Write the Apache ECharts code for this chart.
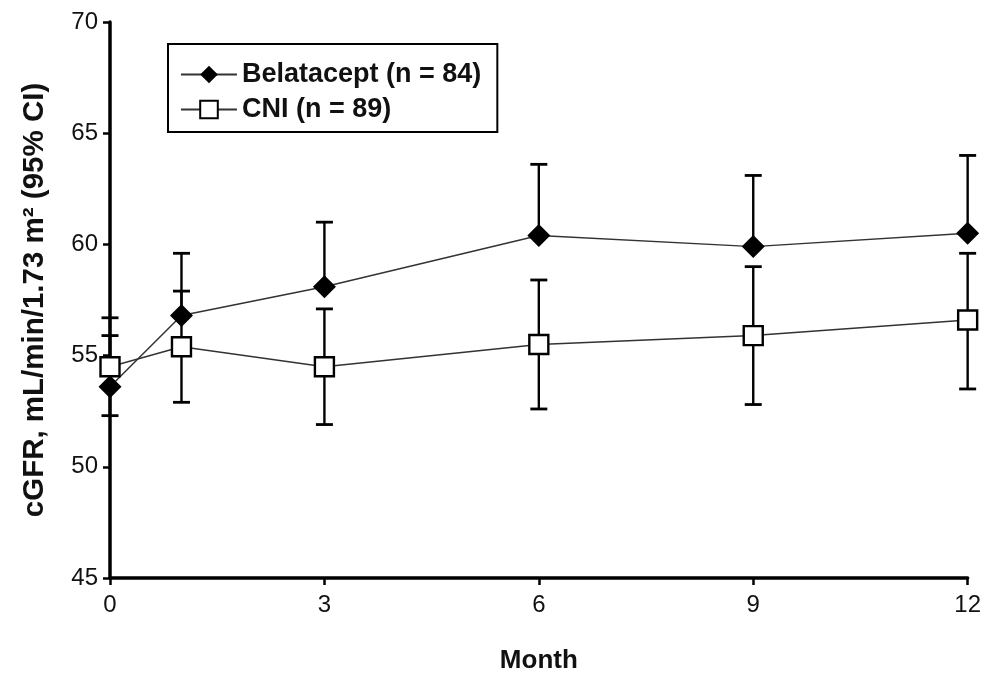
<!DOCTYPE html>
<html>
<head>
<meta charset="utf-8">
<script src="https://cdn.jsdelivr.net/npm/echarts@6/dist/echarts.min.js"></script>
<style>
html,body{margin:0;padding:0;background:#fff;}
#chart{width:984px;height:679px;}
</style>
</head>
<body>
<div id="chart"></div>
<script>
// ---- data ----
var months = [0, 1, 3, 6, 9, 12];
var xTicks = [0, 3, 6, 9, 12];
var belaName = 'Belatacept (n = 84)';
var cniName = 'CNI (n = 89)';
var belaMean = [53.6, 56.8, 58.1, 60.4, 59.9, 60.5];
var belaUpper = [55.9, 59.6, 61.0, 63.6, 63.1, 64.0];
var cniMean = [54.5, 55.4, 54.5, 55.5, 55.9, 56.6];
var cniUpper = [56.7, 57.9, 57.1, 58.4, 59.0, 59.6];
var cniLower = [52.3, 52.9, 51.9, 52.6, 52.8, 53.5];
var yTicks = [45, 50, 55, 60, 65, 70];

var FONT = 'Liberation Sans, Arial, Helvetica, sans-serif';

function pairs(xs, ys) { return xs.map(function (x, i) { return [x, ys[i]]; }); }

// error bar rows: [x, low, high]
var belaErr = months.map(function (m, i) { return [m, belaMean[i], belaUpper[i]]; });
var cniErr = months.map(function (m, i) { return [m, cniLower[i], cniUpper[i]]; });

function errRender(capLow, capHigh) {
  return function (params, api) {
    var x = api.value(0);
    var lo = api.coord([x, api.value(1)]);
    var hi = api.coord([x, api.value(2)]);
    var hw = 8.5;
    var st = { stroke: '#000', lineWidth: 2.4 };
    var cs = { stroke: '#000', lineWidth: 2.8 };
    var children = [{ type: 'line', shape: { x1: lo[0], y1: lo[1], x2: hi[0], y2: hi[1] }, style: st }];
    if (capHigh) children.push({ type: 'line', shape: { x1: hi[0] - hw, y1: hi[1], x2: hi[0] + hw, y2: hi[1] }, style: cs });
    if (capLow) children.push({ type: 'line', shape: { x1: lo[0] - hw, y1: lo[1], x2: lo[0] + hw, y2: lo[1] }, style: cs });
    return { type: 'group', children: children };
  };
}

var chart = echarts.init(document.getElementById('chart'), null, { renderer: 'canvas' });
chart.setOption({
  backgroundColor: '#fff',
  animation: false,
  textStyle: { fontFamily: FONT },
  grid: { left: 110, right: 13, top: 22, bottom: 98 },
  legend: {
    orient: 'vertical',
    left: 168, top: 44,
    padding: [17, 16, 9, 12],
    itemGap: 8,
    itemWidth: 56, itemHeight: 22,
    borderColor: '#000', borderWidth: 2,
    data: [belaName, cniName],
    textStyle: { fontFamily: FONT, fontSize: 27, fontWeight: 'bold', color: '#111' }
  },
  xAxis: {
    type: 'value', min: 0, max: 12, interval: 3,
    name: 'Month', nameLocation: 'middle', nameGap: 70,
    nameTextStyle: { fontFamily: FONT, fontSize: 26, fontWeight: 'bold', color: '#111' },
    axisLine: { lineStyle: { color: '#000', width: 3.5 } },
    axisTick: { show: true, length: 7, lineStyle: { color: '#000', width: 2.5 } },
    axisLabel: { fontFamily: FONT, fontSize: 24, color: '#111', margin: 15,
      formatter: function (v) { return xTicks.indexOf(v) >= 0 ? String(v) : ''; } },
    splitLine: { show: false }
  },
  yAxis: {
    type: 'value', min: 45, max: 70, interval: 5,
    name: 'cGFR, mL/min/1.73 m\u00B2 (95% CI)', nameLocation: 'middle', nameGap: 60, nameRotate: 90,
    nameTextStyle: { fontFamily: FONT, fontSize: 29.5, fontWeight: 'bold', color: '#111' },
    axisLine: { show: true, lineStyle: { color: '#000', width: 3.5 } },
    axisTick: { show: true, length: 7, lineStyle: { color: '#000', width: 2.5 } },
    axisLabel: { fontFamily: FONT, fontSize: 24, color: '#111', margin: 12,
      formatter: function (v) { return yTicks.indexOf(v) >= 0 ? String(v) : ''; } },
    splitLine: { show: false }
  },
  series: [
    { type: 'custom', name: 'belaErr', renderItem: errRender(false, true), data: belaErr, z: 2, silent: true,
      encode: { x: 0, y: [1, 2] } },
    { type: 'custom', name: 'cniErr', renderItem: errRender(true, true), data: cniErr, z: 2, silent: true,
      encode: { x: 0, y: [1, 2] } },
    { type: 'line', name: belaName, data: pairs(months, belaMean), z: 3,
      lineStyle: { color: '#333', width: 1.5 },
      symbol: 'diamond', symbolSize: 23,
      itemStyle: { color: '#000', borderColor: '#000', borderWidth: 0 } },
    { type: 'line', name: cniName, data: pairs(months, cniMean), z: 4,
      lineStyle: { color: '#333', width: 1.5 },
      symbol: 'rect', symbolSize: 19,
      itemStyle: { color: '#fff', borderColor: '#000', borderWidth: 2.4 } }
  ]
});
</script>
</body>
</html>
